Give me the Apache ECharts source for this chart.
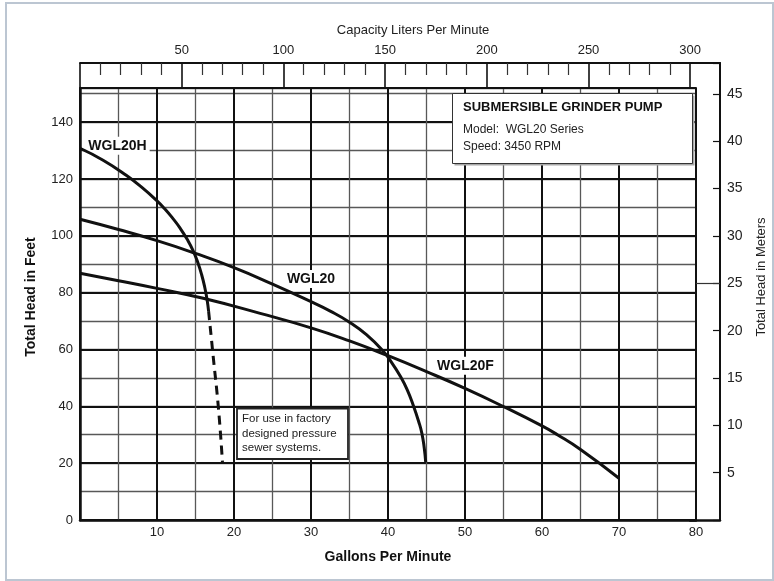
<!DOCTYPE html>
<html>
<head>
<meta charset="utf-8">
<script src="https://cdn.jsdelivr.net/npm/echarts@6/dist/echarts.min.js"></script>
<style>
  html, body { margin: 0; padding: 0; background: #fff; }
  #wrap { position: relative; width: 774px; height: 581px; }
  #chart { position: absolute; left: 0; top: 0; width: 774px; height: 581px; }
  #frame { position: absolute; left: 5px; top: 2px; width: 765px; height: 575px;
           border: 2px solid #bcc6d2; pointer-events: none; }
</style>
</head>
<body>
<div id="wrap"><div id="chart"></div><div id="frame"></div></div>
<script>
// ---- data (gallons per minute, total head in feet) ----
const wgl20hSolid = [[0,130.8],[3,126.6],[6,121.3],[8,117.1],[10,112.3],[11,109.5],[12,106.3],[13,102.7],[14,98.4],[14.7,94.7],[15.3,90.6],[15.8,86.3],[16.2,81.9],[16.5,77.6],[16.7,73.5]];
const wgl20hDashed = [[16.7,73.5],[17.3,57.5],[18,38.7],[18.5,20.3]];
const wgl20 = [[0,105.8],[5,102.2],[10,98.3],[15,93.8],[20,88.8],[25,83],[30,76.8],[32.5,73.5],[35,69.6],[37.2,65.2],[39.3,59.6],[40.5,55.3],[41.6,50.6],[42.5,45.8],[43.3,40.2],[44,34.5],[44.4,30.5],[44.7,25.5],[44.9,20.3]];
const wgl20f = [[0,86.8],[5,84.2],[10,81.5],[16,78],[23.4,72.7],[30,67.6],[35,63],[40,57.8],[45,52.2],[50,46.3],[55,39.9],[60,33.1],[62,30],[65,24.8],[70,14.7]];

const gpmTickLabels = [10,20,30,40,50,60,70,80];
const feetTickLabels = [0,20,40,60,80,100,120,140];
const litersTickLabels = [50,100,150,200,250,300];
const meterTickLabels = [5,10,15,20,25,30,35,40,45];

const seriesNames = ['WGL20H','WGL20','WGL20F'];
const boxTitle = 'SUBMERSIBLE GRINDER PUMP';
const boxLines = ['Model:  WGL20 Series','Speed: 3450 RPM'];
const noteLines = ['For use in factory','designed pressure','sewer systems.'];

const FONT = '"Liberation Sans", Arial, Helvetica, sans-serif';
const DARK = '#111';
const THIN = '#585858';

const chart = echarts.init(document.getElementById('chart'), null, {renderer:'canvas'});

function curveLabel(text, coord) {
  return {
    symbol: 'rect', symbolSize: 0, silent: true,
    data: [{ coord: coord }],
    label: { show: true, position: 'inside', formatter: text, color: DARK,
             fontFamily: FONT, fontWeight: 'bold', fontSize: 14,
             backgroundColor: '#fff', padding: [2, 3] }
  };
}

const option = {
  animation: false,
  backgroundColor: '#fff',
  textStyle: { fontFamily: FONT },
  grid: [
    { left: 80, top: 88, width: 616, height: 432 },
    { left: 80, top: 63, width: 610.2, height: 25 },
    { left: 690, top: 63, width: 30, height: 457 }
  ],
  xAxis: [
    { gridIndex: 0, type: 'value', position: 'bottom', min: 0, max: 80, interval: 10, z: 1,
      axisLine: { show: true, onZero: false, lineStyle: { color: DARK, width: 2.5 } },
      axisTick: { show: false },
      axisLabel: { margin: 6, fontSize: 13, color: '#222', fontFamily: FONT,
                   formatter: v => gpmTickLabels.includes(v) ? String(v) : '' },
      splitLine: { show: true, lineStyle: { color: DARK, width: 2 } },
      minorTick: { show: false, splitNumber: 2 },
      minorSplitLine: { show: true, lineStyle: { color: THIN, width: 1.3 } },
      name: 'Gallons Per Minute', nameLocation: 'middle', nameGap: 30,
      nameTextStyle: { fontWeight: 'bold', fontSize: 14, color: DARK, fontFamily: FONT } },
    { gridIndex: 0, type: 'value', position: 'top', min: 0, max: 80, z: 1,
      axisLine: { show: true, onZero: false, lineStyle: { color: DARK, width: 2 } },
      axisTick: { show: false }, axisLabel: { show: false }, splitLine: { show: false } },
    { gridIndex: 1, type: 'value', position: 'top', min: 0, max: 300, interval: 50, z: 1,
      axisLine: { show: true, onZero: false, lineStyle: { color: DARK, width: 2 } },
      axisTick: { show: false, inside: true },
      minorTick: { show: true, splitNumber: 5, length: 12, lineStyle: { color: '#333', width: 1.2 } },
      axisLabel: { margin: 6, fontSize: 13, color: '#222', fontFamily: FONT,
                   formatter: v => litersTickLabels.includes(v) ? String(v) : '' },
      splitLine: { show: true, lineStyle: { color: DARK, width: 1.6 } },
      name: 'Capacity Liters Per Minute', nameLocation: 'middle', nameGap: 26,
      nameTextStyle: { fontSize: 13, color: '#222', fontFamily: FONT, padding: [0, 0, 0, 56] } },
    { gridIndex: 2, type: 'value', position: 'bottom', min: 0, max: 1,
      axisLine: { show: true, onZero: false, lineStyle: { color: DARK, width: 2.5 } },
      axisTick: { show: false }, axisLabel: { show: false }, splitLine: { show: false } },
    { gridIndex: 2, type: 'value', position: 'top', min: 0, max: 1,
      axisLine: { show: true, onZero: false, lineStyle: { color: DARK, width: 2 } },
      axisTick: { show: false }, axisLabel: { show: false }, splitLine: { show: false } }
  ],
  yAxis: [
    { gridIndex: 0, type: 'value', position: 'left', min: 0, max: 152, interval: 20, z: 1,
      axisLine: { show: true, onZero: false, lineStyle: { color: DARK, width: 2.5 } },
      axisTick: { show: false },
      axisLabel: { margin: 7, fontSize: 13, color: '#222', fontFamily: FONT,
                   formatter: v => feetTickLabels.includes(v) ? String(v) : '' },
      splitLine: { show: true, lineStyle: { color: DARK, width: 2 } },
      name: 'Total Head in Feet', nameLocation: 'middle', nameRotate: 90, nameGap: 42,
      nameTextStyle: { fontWeight: 'bold', fontSize: 14, color: DARK, fontFamily: FONT, padding: [0, 0, 0, 14] } },
    { gridIndex: 0, type: 'value', position: 'left', min: 0, max: 152, interval: 10, z: 0,
      axisLine: { show: false }, axisTick: { show: false }, axisLabel: { show: false },
      splitLine: { show: true, lineStyle: { color: THIN, width: 1.3 } } },
    { gridIndex: 1, type: 'value', show: false, min: 0, max: 1 },
    { gridIndex: 2, type: 'value', position: 'right', min: 0, max: 48.27, interval: 5,
      axisLine: { show: true, onZero: false, lineStyle: { color: DARK, width: 2 } },
      axisTick: { show: true, inside: true, length: 7, lineStyle: { color: DARK, width: 1.2 } },
      axisLabel: { margin: 7, fontSize: 14, color: '#222', fontFamily: FONT,
                   formatter: v => meterTickLabels.includes(v) ? String(v) : '' },
      splitLine: { show: false },
      name: 'Total Head in Meters', nameLocation: 'middle', nameRotate: 90, nameGap: 35,
      nameTextStyle: { fontSize: 13, color: '#222', fontFamily: FONT, padding: [0, 0, 0, 29] } }
  ],
  series: [
    { name: seriesNames[0], type: 'line', xAxisIndex: 0, yAxisIndex: 0, data: wgl20hSolid,
      smooth: 0.5, symbol: 'none', z: 5, lineStyle: { color: DARK, width: 3 },
      markPoint: curveLabel(seriesNames[0], [4.87, 131.7]) },
    { name: seriesNames[0] + ' (pressure sewer)', type: 'line', xAxisIndex: 0, yAxisIndex: 0, data: wgl20hDashed,
      smooth: 0.5, symbol: 'none', z: 5, lineStyle: { color: DARK, width: 3, type: [9, 6], cap: 'butt' } },
    { name: seriesNames[1], type: 'line', xAxisIndex: 0, yAxisIndex: 0, data: wgl20,
      smooth: 0.5, symbol: 'none', z: 5, lineStyle: { color: DARK, width: 3 },
      markPoint: curveLabel(seriesNames[1], [30.0, 84.8]) },
    { name: seriesNames[2], type: 'line', xAxisIndex: 0, yAxisIndex: 0, data: wgl20f,
      smooth: 0.5, symbol: 'none', z: 5, lineStyle: { color: DARK, width: 3 },
      markPoint: curveLabel(seriesNames[2], [50.06, 54.3]) },
    { name: 'meter-25-tick', type: 'line', xAxisIndex: 3, yAxisIndex: 3, data: [], silent: true,
      markLine: { symbol: 'none', silent: true, label: { show: false },
                  lineStyle: { color: '#333', width: 1.2, type: 'solid' },
                  data: [[{ coord: [0.2, 25] }, { coord: [1, 25] }]] } }
  ],
  graphic: [
    { type: 'rect', z: 20, shape: { x: 454.5, y: 95.5, width: 240, height: 70 },
      style: { fill: '#a8a8a8' } },
    { type: 'rect', z: 21, shape: { x: 452.5, y: 93.5, width: 240, height: 70 },
      style: { fill: '#fff', stroke: '#333', lineWidth: 1 } },
    { type: 'text', z: 22, x: 463, y: 107,
      style: { text: boxTitle, font: 'bold 13px ' + FONT, fill: DARK, verticalAlign: 'middle' } },
    { type: 'text', z: 22, x: 463, y: 130,
      style: { text: boxLines[0], font: '12px ' + FONT, fill: '#222', verticalAlign: 'middle' } },
    { type: 'text', z: 22, x: 463, y: 147,
      style: { text: boxLines[1], font: '12px ' + FONT, fill: '#222', verticalAlign: 'middle' } },
    { type: 'rect', z: 21, shape: { x: 237, y: 408.5, width: 111, height: 50.5 },
      style: { fill: '#fff', stroke: '#222', lineWidth: 1.8 } },
    { type: 'text', z: 22, x: 242, y: 412,
      style: { text: noteLines.join('\n'), font: '11.5px ' + FONT, lineHeight: 14.4,
               fill: '#222', verticalAlign: 'top' } }
  ]
};
chart.setOption(option);
</script>
</body>
</html>
